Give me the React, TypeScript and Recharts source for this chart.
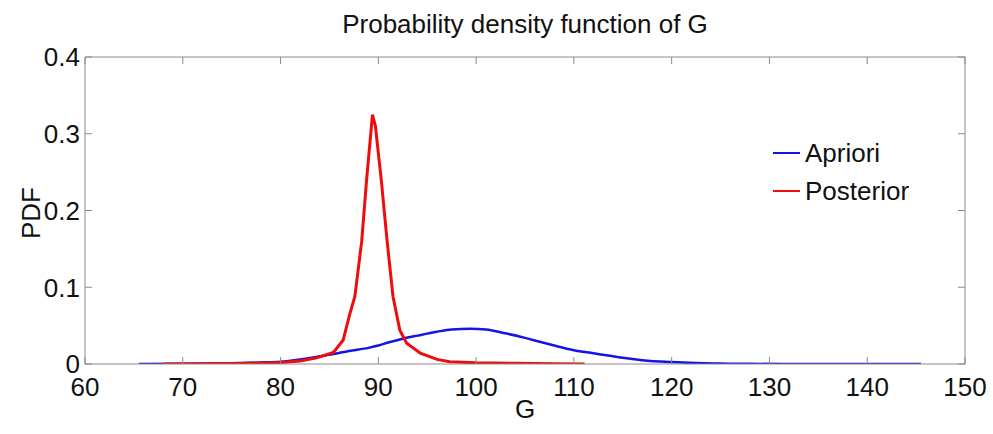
import React from 'react'
import { LineChart, Line, XAxis, YAxis } from 'recharts'

const aprioriG = [65.5, 70, 75, 78, 80, 82, 84, 85.4, 87, 89, 90, 91, 92.5, 94, 96, 97.5, 99.4, 101, 103, 105, 106.5, 108, 110, 112, 113.5, 115, 117, 120, 122.5, 125, 128, 132, 138, 145.5]
const aprioriPdf = [0, 0.0002, 0.001, 0.002, 0.003, 0.006, 0.01, 0.013, 0.017, 0.021, 0.024, 0.028, 0.033, 0.037, 0.042, 0.045, 0.046, 0.045, 0.04, 0.034, 0.029, 0.024, 0.018, 0.014, 0.011, 0.008, 0.005, 0.0025, 0.0012, 0.0005, 0.0002, 0.0001, 0, 0]

const posteriorG = [68, 72, 76, 80, 82, 83.7, 85.4, 86.4, 87.1, 87.6, 88.3, 88.8, 89.4, 89.7, 90.3, 90.9, 91.5, 92.2, 92.9, 94.3, 96, 97.3, 100, 104, 108, 111.1]
const posteriorPdf = [0, 0.0002, 0.0006, 0.002, 0.004, 0.008, 0.015, 0.031, 0.066, 0.088, 0.16, 0.24, 0.325, 0.31, 0.24, 0.16, 0.088, 0.044, 0.027, 0.014, 0.006, 0.003, 0.0015, 0.001, 0.0004, 0]

const xTicks = [60, 70, 80, 90, 100, 110, 120, 130, 140, 150]
const yTicks = [0, 0.1, 0.2, 0.3, 0.4]

const apriori = aprioriG.map((g, i) => ({ g, pdf: aprioriPdf[i] }))
const posterior = posteriorG.map((g, i) => ({ g, pdf: posteriorPdf[i] }))

const FONT = '"Liberation Sans", Arial, sans-serif'
const AXIS = '#8a8a8a'
const BLUE = '#1414e6'
const RED = '#ee0c0c'
const TICK_LEN = 7

const BottomTick = (props: any) => {
  const { x, y, payload } = props
  return (
    <g>
      <line x1={x} x2={x} y1={y - 14} y2={y - 14 - TICK_LEN} stroke={AXIS} />
      <text x={x} y={y} dy="0.71em" textAnchor="middle" fontSize={26} fontFamily={FONT} fill="#111">
        {payload.value}
      </text>
    </g>
  )
}

const TopTick = (props: any) => {
  const { x, y } = props
  return <line x1={x} x2={x} y1={y} y2={y + TICK_LEN} stroke={AXIS} />
}

const LeftTick = (props: any) => {
  const { x, y, payload } = props
  return (
    <g>
      <line x1={x + 5} x2={x + 5 + TICK_LEN} y1={y} y2={y} stroke={AXIS} />
      <text x={x} y={y} dy="0.36em" textAnchor="end" fontSize={26} fontFamily={FONT} fill="#111">
        {payload.value}
      </text>
    </g>
  )
}

const RightTick = (props: any) => {
  const { x, y } = props
  return <line x1={x} x2={x - TICK_LEN} y1={y} y2={y} stroke={AXIS} />
}

const legendItems = [
  { name: 'Apriori', color: BLUE },
  { name: 'Posterior', color: RED },
]

const textStyle = { fontFamily: FONT, fontSize: 26, lineHeight: '26px', color: '#111' }

export default function App() {
  return (
    <div style={{ position: 'absolute', left: 0, top: 0, width: 993, height: 434, background: '#fff' }}>
      <LineChart width={993} height={434} margin={{ top: 56, right: 27, bottom: 40, left: 0 }}>
        <XAxis
          xAxisId="b"
          type="number"
          dataKey="g"
          domain={[60, 150]}
          ticks={xTicks}
          allowDataOverflow
          height={30}
          tickSize={0}
          tickMargin={14}
          stroke={AXIS}
          tick={<BottomTick />}
        />
        <XAxis
          xAxisId="t"
          orientation="top"
          type="number"
          dataKey="g"
          domain={[60, 150]}
          ticks={xTicks}
          allowDataOverflow
          height={1}
          tickSize={0}
          tickMargin={0}
          stroke={AXIS}
          tick={<TopTick />}
        />
        <YAxis
          yAxisId="l"
          type="number"
          domain={[0, 0.4]}
          ticks={yTicks}
          allowDataOverflow
          width={85}
          tickSize={0}
          tickMargin={5}
          stroke={AXIS}
          tick={<LeftTick />}
        />
        <YAxis
          yAxisId="r"
          orientation="right"
          type="number"
          domain={[0, 0.4]}
          ticks={yTicks}
          allowDataOverflow
          width={1}
          tickSize={0}
          tickMargin={0}
          stroke={AXIS}
          tick={<RightTick />}
        />
        <Line
          xAxisId="b"
          yAxisId="l"
          data={apriori}
          dataKey="pdf"
          name="Apriori"
          type="monotone"
          stroke={BLUE}
          strokeWidth={2.5}
          dot={false}
          activeDot={false}
          isAnimationActive={false}
        />
        <Line
          xAxisId="t"
          yAxisId="r"
          data={posterior}
          dataKey="pdf"
          name="Posterior"
          type="linear"
          stroke={RED}
          strokeWidth={3}
          dot={false}
          activeDot={false}
          isAnimationActive={false}
        />
      </LineChart>
      <div style={{ ...textStyle, position: 'absolute', left: 0, width: 1050, top: 11, textAlign: 'center' }}>
        Probability density function of G
      </div>
      <div style={{ ...textStyle, position: 'absolute', left: 0, width: 1050, top: 396, textAlign: 'center' }}>
        G
      </div>
      <div style={{ ...textStyle, position: 'absolute', left: 31 - 40, top: 213 - 13, width: 80, textAlign: 'center', transform: 'rotate(-90deg)' }}>
        PDF
      </div>
      <div style={{ ...textStyle, position: 'absolute', left: 773, top: 134 }}>
        {legendItems.map((it) => (
          <div key={it.name} style={{ display: 'flex', alignItems: 'center', height: 38 }}>
            <div style={{ width: 27, height: 0, borderTop: `2px solid ${it.color}`, marginRight: 5 }} />
            <span>{it.name}</span>
          </div>
        ))}
      </div>
    </div>
  )
}
